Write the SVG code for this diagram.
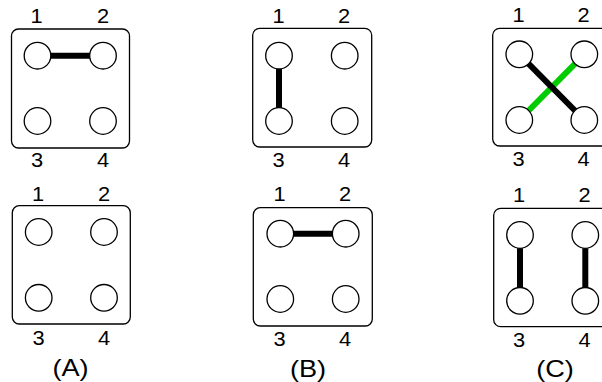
<svg xmlns="http://www.w3.org/2000/svg" width="602" height="382" viewBox="0 0 602 382">
<style>
.box{fill:none;stroke:#000;stroke-width:1.3}
.pin{fill:#fff;stroke:#000;stroke-width:1.3}
.num{font-family:"Liberation Sans",Arial,sans-serif;font-size:19.5px;fill:#000;text-anchor:middle}
.cap{font-family:"Liberation Sans",Arial,sans-serif;font-size:23px;fill:#000;text-anchor:middle}
.wire{stroke:#000;stroke-width:6;fill:none}
.green{stroke:#00cc00;stroke-width:6;fill:none}
</style>
<rect width="602" height="382" fill="#fff"/>
<g id="panels">
  <rect id="A1" class="box" x="11.5" y="29" width="118" height="119" rx="7"/>
  <rect id="A2" class="box" x="12.3" y="205.7" width="118" height="118.3" rx="7"/>
  <rect id="B1" class="box" x="252.7" y="28.3" width="119" height="118.7" rx="7"/>
  <rect id="B2" class="box" x="253.3" y="207.7" width="119" height="118.3" rx="7"/>
  <rect id="C1" class="box" x="492.7" y="28.3" width="119" height="117.7" rx="7"/>
  <rect id="C2" class="box" x="493.7" y="208.3" width="119" height="118.4" rx="7"/>
</g>
<g id="connectors">
  <line class="wire" x1="37.5" y1="55.7" x2="103" y2="55.7"/>
  <line class="wire" x1="279" y1="55.7" x2="279" y2="121"/>
  <line class="wire" x1="280.3" y1="233.7" x2="345.7" y2="233.7"/>
  <line class="green" x1="519.3" y1="120" x2="584.3" y2="54.3"/>
  <line class="wire" x1="519.3" y1="54.3" x2="584.3" y2="120"/>
  <line class="wire" x1="520" y1="235" x2="520" y2="300.8"/>
  <line class="wire" x1="585.3" y1="235" x2="585.3" y2="300.8"/>
</g>
<g id="A1-pins">
  <g id="A1-p1"><circle class="pin" cx="37.5" cy="55.7" r="13.3"/><text class="num" transform="translate(36.5 22.5) scale(1.12 1)">1</text></g>
  <g id="A1-p2"><circle class="pin" cx="103" cy="55.7" r="13.3"/><text class="num" transform="translate(103 22.5) scale(1.12 1)">2</text></g>
  <g id="A1-p3"><circle class="pin" cx="37.5" cy="121" r="13.3"/><text class="num" transform="translate(37 167) scale(1.12 1)">3</text></g>
  <g id="A1-p4"><circle class="pin" cx="103" cy="121" r="13.3"/><text class="num" transform="translate(103 167) scale(1.12 1)">4</text></g>
</g>
<g id="A2-pins">
  <g id="A2-p1"><circle class="pin" cx="38.7" cy="232" r="13.3"/><text class="num" transform="translate(38 200.5) scale(1.12 1)">1</text></g>
  <g id="A2-p2"><circle class="pin" cx="104" cy="232" r="13.3"/><text class="num" transform="translate(104 200.5) scale(1.12 1)">2</text></g>
  <g id="A2-p3"><circle class="pin" cx="38.7" cy="297.8" r="13.3"/><text class="num" transform="translate(38.5 344.5) scale(1.12 1)">3</text></g>
  <g id="A2-p4"><circle class="pin" cx="104" cy="297.8" r="13.3"/><text class="num" transform="translate(104 344.5) scale(1.12 1)">4</text></g>
</g>
<g id="B1-pins">
  <g id="B1-p1"><circle class="pin" cx="279" cy="55.7" r="13.3"/><text class="num" transform="translate(278.5 22.5) scale(1.12 1)">1</text></g>
  <g id="B1-p2"><circle class="pin" cx="344.7" cy="55.7" r="13.3"/><text class="num" transform="translate(344 22.5) scale(1.12 1)">2</text></g>
  <g id="B1-p3"><circle class="pin" cx="279" cy="121" r="13.3"/><text class="num" transform="translate(278.5 167) scale(1.12 1)">3</text></g>
  <g id="B1-p4"><circle class="pin" cx="344.7" cy="121" r="13.3"/><text class="num" transform="translate(344 167) scale(1.12 1)">4</text></g>
</g>
<g id="B2-pins">
  <g id="B2-p1"><circle class="pin" cx="280.3" cy="233.7" r="13.3"/><text class="num" transform="translate(279.5 201) scale(1.12 1)">1</text></g>
  <g id="B2-p2"><circle class="pin" cx="345.7" cy="233.7" r="13.3"/><text class="num" transform="translate(345 201) scale(1.12 1)">2</text></g>
  <g id="B2-p3"><circle class="pin" cx="280.3" cy="299" r="13.3"/><text class="num" transform="translate(279.5 346) scale(1.12 1)">3</text></g>
  <g id="B2-p4"><circle class="pin" cx="345.7" cy="299" r="13.3"/><text class="num" transform="translate(345 346) scale(1.12 1)">4</text></g>
</g>
<g id="C1-pins">
  <g id="C1-p1"><circle class="pin" cx="519.3" cy="54.3" r="13.3"/><text class="num" transform="translate(518.5 22) scale(1.12 1)">1</text></g>
  <g id="C1-p2"><circle class="pin" cx="584.3" cy="54.3" r="13.3"/><text class="num" transform="translate(583.5 22) scale(1.12 1)">2</text></g>
  <g id="C1-p3"><circle class="pin" cx="519.3" cy="120" r="13.3"/><text class="num" transform="translate(518.5 166) scale(1.12 1)">3</text></g>
  <g id="C1-p4"><circle class="pin" cx="584.3" cy="120" r="13.3"/><text class="num" transform="translate(583.5 166) scale(1.12 1)">4</text></g>
</g>
<g id="C2-pins">
  <g id="C2-p1"><circle class="pin" cx="520" cy="235" r="13.3"/><text class="num" transform="translate(519 202) scale(1.12 1)">1</text></g>
  <g id="C2-p2"><circle class="pin" cx="585.3" cy="235" r="13.3"/><text class="num" transform="translate(584.5 202) scale(1.12 1)">2</text></g>
  <g id="C2-p3"><circle class="pin" cx="520" cy="300.8" r="13.3"/><text class="num" transform="translate(519 346.5) scale(1.12 1)">3</text></g>
  <g id="C2-p4"><circle class="pin" cx="585.3" cy="300.8" r="13.3"/><text class="num" transform="translate(584.5 346.5) scale(1.12 1)">4</text></g>
</g>
<g id="captions">
  <text class="cap" transform="translate(70.5 375.5) scale(1.18 1)">(A)</text>
  <text class="cap" transform="translate(308 377) scale(1.18 1)">(B)</text>
  <text class="cap" transform="translate(555 377) scale(1.18 1)">(C)</text>
</g>
</svg>
